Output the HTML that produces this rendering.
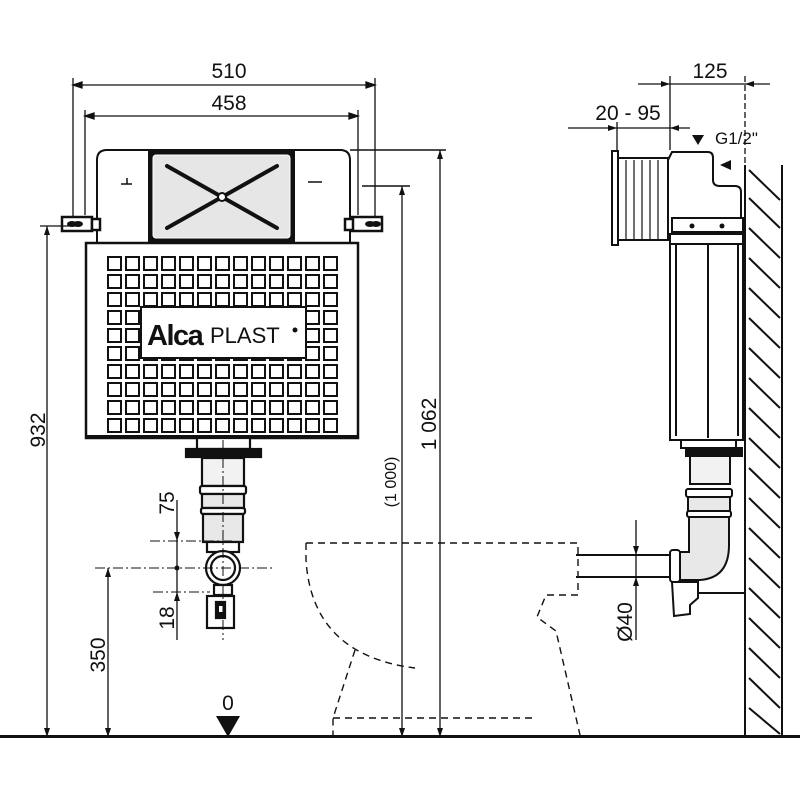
<!DOCTYPE html>
<html><head><meta charset="utf-8"><style>
html,body{margin:0;padding:0;background:#fff}
svg{display:block}
text{font-family:"Liberation Sans",Arial,sans-serif;fill:#111}
</style></head><body>
<svg width="800" height="800" viewBox="0 0 800 800" xmlns="http://www.w3.org/2000/svg">
<defs>
<g id="row" fill="#fff" stroke="#111" stroke-width="2">
<rect x="108" y="0" width="13" height="13"/><rect x="126" y="0" width="13" height="13"/><rect x="144" y="0" width="13" height="13"/><rect x="162" y="0" width="13" height="13"/><rect x="180" y="0" width="13" height="13"/><rect x="198" y="0" width="13" height="13"/><rect x="216" y="0" width="13" height="13"/><rect x="234" y="0" width="13" height="13"/><rect x="252" y="0" width="13" height="13"/><rect x="270" y="0" width="13" height="13"/><rect x="288" y="0" width="13" height="13"/><rect x="306" y="0" width="13" height="13"/><rect x="324" y="0" width="13" height="13"/>
</g>
</defs>
<g stroke="#111" fill="none" stroke-width="1.3">
<line x1="73" y1="85" x2="375" y2="85"/>
<path d="M82,82 L73,85 L82,88z M366,82 L375,85 L366,88z" fill="#111"/>
<line x1="73" y1="78" x2="73" y2="232"/><line x1="375" y1="78" x2="375" y2="232"/>
<line x1="85" y1="116" x2="358" y2="116"/>
<path d="M94,113 L85,116 L94,119z M349,113 L358,116 L349,119z" fill="#111"/>
<line x1="85" y1="110" x2="85" y2="215"/><line x1="358" y1="110" x2="358" y2="215"/>
</g>
<text x="229" y="78" font-size="21" text-anchor="middle">510</text>
<text x="229" y="110" font-size="21" text-anchor="middle">458</text>
<path d="M97,243 L97,160 Q97,150 107,150 L340,150 Q350,150 350,160 L350,243" fill="#fff" stroke="#111" stroke-width="2"/>
<rect x="148" y="150" width="147" height="93" fill="#111"/>
<rect x="153" y="155" width="137" height="83" rx="3" fill="#e6e6e6" stroke="#fff" stroke-width="1"/>
<line x1="167" y1="166" x2="277" y2="228" stroke="#111" stroke-width="4" stroke-linecap="round"/>
<line x1="277" y1="166" x2="167" y2="228" stroke="#111" stroke-width="4" stroke-linecap="round"/>
<circle cx="222" cy="197" r="4" fill="#fff" stroke="#111" stroke-width="2"/>
<g stroke="#111" stroke-width="1.5" fill="none"><path d="M121,184 L132,184 M127,178 L127,184"/><path d="M308,182 L322,182"/><path d="M362,186 L410,186"/><path d="M350,150 L446,150"/></g>
<g stroke="#111" stroke-width="2.5" fill="#fff">
<rect x="62" y="217" width="30" height="14"/><rect x="92" y="219" width="8" height="11"/>
<rect x="352" y="217" width="30" height="14"/><rect x="345" y="219" width="8" height="11"/>
</g>
<g fill="#111"><ellipse cx="72" cy="224" rx="5" ry="3"/><ellipse cx="78" cy="224" rx="5" ry="3"/><ellipse cx="370" cy="224" rx="5" ry="3"/><ellipse cx="376" cy="224" rx="5" ry="3"/></g>
<rect x="86" y="243" width="272" height="195" fill="#fff" stroke="#111" stroke-width="2.5"/>
<use href="#row" y="257"/><use href="#row" y="275"/><use href="#row" y="293"/><use href="#row" y="311"/><use href="#row" y="329"/><use href="#row" y="347"/><use href="#row" y="365"/><use href="#row" y="383"/><use href="#row" y="401"/><use href="#row" y="419"/>
<rect x="87" y="435" width="270" height="3" fill="#111"/>
<rect x="141" y="307" width="165" height="51" fill="#fff" stroke="#111" stroke-width="2"/>
<text x="147" y="345" font-size="29" font-weight="bold" letter-spacing="-1.5">Alca</text>
<text x="210" y="343" font-size="22">PLAST</text>
<circle cx="295" cy="330" r="2.5" fill="#111"/>
<g stroke="#111" stroke-width="2.2" fill="#fff">
<rect x="197" y="438" width="53" height="11"/>
<rect x="186" y="449" width="75" height="8" fill="#111"/>
<rect x="202" y="458" width="42" height="28" fill="#f2f2f2"/>
<rect x="200" y="486" width="46" height="8" rx="2"/>
<rect x="202" y="494" width="42" height="14" fill="#e8e8e8"/>
<rect x="201" y="508" width="44" height="6" rx="2"/>
<rect x="203" y="514" width="40" height="28" fill="#e8e8e8"/>
<rect x="207" y="542" width="32" height="10"/>
<circle cx="223" cy="568" r="17"/>
<circle cx="223" cy="568" r="12"/>
<rect x="214" y="585" width="18" height="10"/>
<rect x="207" y="596" width="27" height="32"/>
<rect x="216" y="602" width="9" height="16" fill="#111"/>
</g>
<rect x="219" y="606" width="4" height="6" fill="#fff"/>
<g stroke="#111" stroke-width="1" stroke-dasharray="10,3,2,3" fill="none">
<line x1="223" y1="440" x2="223" y2="640"/>
<line x1="150" y1="541" x2="232" y2="541"/>
<line x1="95" y1="568" x2="275" y2="568"/>
<line x1="153" y1="592" x2="210" y2="592"/>
</g>
<g stroke="#111" stroke-width="1.3" fill="none">
<line x1="47" y1="226" x2="47" y2="737"/><line x1="40" y1="226" x2="80" y2="226"/>
<line x1="108" y1="568" x2="108" y2="737"/>
<line x1="177" y1="500" x2="177" y2="640"/>
<line x1="402" y1="186" x2="402" y2="737"/>
<line x1="440" y1="150" x2="440" y2="737"/>
</g>
<g fill="#111">
<path d="M44,235 L47,226 L50,235z M44,728 L47,737 L50,728z"/>
<path d="M105,577 L108,568 L111,577z M105,728 L108,737 L111,728z"/>
<path d="M174,532 L177,541 L180,532z M174,601 L177,592 L180,601z"/>
<circle cx="177" cy="568" r="2.5"/>
<path d="M399,195 L402,186 L405,195z M399,728 L402,737 L405,728z"/>
<path d="M437,159 L440,150 L443,159z M437,728 L440,737 L443,728z"/>
<path d="M216,716 L240,716 L228,737z"/>
</g>
<text transform="translate(45,430) rotate(-90)" font-size="21" text-anchor="middle">932</text>
<text transform="translate(105,655) rotate(-90)" font-size="21" text-anchor="middle">350</text>
<text transform="translate(174,503) rotate(-90)" font-size="21" text-anchor="middle">75</text>
<text transform="translate(174,618) rotate(-90)" font-size="21" text-anchor="middle">18</text>
<text transform="translate(436,424) rotate(-90)" font-size="21" text-anchor="middle">1 062</text>
<text transform="translate(396,482) rotate(-90)" font-size="16" text-anchor="middle">(1 000)</text>
<text x="228" y="710" font-size="21" text-anchor="middle">0</text>
<g stroke="#111" stroke-width="1.4" fill="none" stroke-dasharray="7,5">
<path d="M306,543 L578,543 L578,595 L546,595 L537,617 L556,631 L580,735"/>
<path d="M306,543 L306,560 Q312,655 415,668"/>
<path d="M355,650 L333,718 L333,737"/>
<path d="M333,718 L537,718"/>
</g>
<rect x="0" y="735" width="800" height="3" fill="#111"/>
<g stroke="#111" stroke-width="2" fill="none">
<line x1="745" y1="165" x2="745" y2="737"/>
<line x1="782" y1="165" x2="782" y2="737"/>
</g>
<g stroke="#111" stroke-width="2">
<line x1="749" y1="170" x2="780" y2="200"/>
<line x1="749" y1="198" x2="780" y2="228"/>
<line x1="749" y1="228" x2="780" y2="258"/>
<line x1="749" y1="258" x2="780" y2="288"/>
<line x1="749" y1="288" x2="780" y2="318"/>
<line x1="749" y1="318" x2="780" y2="348"/>
<line x1="749" y1="348" x2="780" y2="378"/>
<line x1="749" y1="378" x2="780" y2="408"/>
<line x1="749" y1="408" x2="780" y2="438"/>
<line x1="749" y1="438" x2="780" y2="468"/>
<line x1="749" y1="468" x2="780" y2="498"/>
<line x1="749" y1="498" x2="780" y2="528"/>
<line x1="749" y1="528" x2="780" y2="558"/>
<line x1="749" y1="558" x2="780" y2="588"/>
<line x1="749" y1="588" x2="780" y2="618"/>
<line x1="749" y1="618" x2="780" y2="648"/>
<line x1="749" y1="648" x2="780" y2="678"/>
<line x1="749" y1="678" x2="780" y2="708"/>
<line x1="749" y1="708" x2="780" y2="734"/>
</g>
<g stroke="#111" stroke-width="1.3" fill="none">
<line x1="638" y1="84" x2="770" y2="84"/>
<line x1="670" y1="76" x2="670" y2="150"/>
<line x1="745" y1="76" x2="745" y2="165" stroke-dasharray="6,3"/>
<line x1="568" y1="128" x2="690" y2="128"/>
<line x1="617" y1="122" x2="617" y2="155"/>
<line x1="636" y1="520" x2="636" y2="640"/>
</g>
<g fill="#111">
<path d="M661,81 L670,84 L661,87z M754,81 L745,84 L754,87z"/>
<path d="M608,125 L617,128 L608,131z M679,125 L670,128 L679,131z"/>
<path d="M692,135 L704,135 L698,145z"/>
<path d="M731,160 L731,170 L720,165z"/>
<path d="M633,546 L636,555 L639,546z M633,586 L636,577 L639,586z"/>
</g>
<text x="710" y="78" font-size="21" text-anchor="middle">125</text>
<text x="628" y="120" font-size="21" text-anchor="middle">20 - 95</text>
<text x="715" y="144" font-size="17">G1/2"</text>
<text transform="translate(632,622) rotate(-90)" font-size="21" text-anchor="middle">Ø40</text>
<g stroke="#111" stroke-width="2" fill="#fff">
<rect x="612" y="151" width="6" height="94"/>
<rect x="618" y="158" width="50" height="82"/>
<path d="M668,160 L672,152 L708,152 Q713,152 713,158 L713,180 Q713,186 720,186 L735,186 Q741,186 741,192 L741,220 L676,220 L676,236 L668,236z"/>
<rect x="672" y="218" width="71" height="14"/>
<rect x="670" y="234" width="73" height="10"/>
<rect x="670" y="244" width="73" height="196"/>
<line x1="708" y1="244" x2="708" y2="438"/>
<line x1="676" y1="244" x2="676" y2="436"/>
<line x1="738" y1="244" x2="738" y2="436"/>
<rect x="681" y="440" width="55" height="8"/>
<rect x="686" y="448" width="56" height="8" fill="#111"/>
<rect x="690" y="456" width="40" height="28" fill="#f2f2f2"/>
<rect x="686" y="489" width="46" height="8" rx="2"/>
<rect x="688" y="497" width="42" height="14" fill="#e8e8e8"/>
<rect x="687" y="511" width="44" height="6" rx="2"/>
<path d="M689,517 L729,517 L729,545 Q729,578 700,580 L680,580 L680,552 L689,552z" fill="#e8e8e8"/>
<rect x="670" y="550" width="10" height="32" rx="3"/>
<path d="M672,582 L698,582 L698,598 L690,605 L690,614 L674,616z"/>
<line x1="576" y1="555" x2="670" y2="555"/>
<line x1="576" y1="577" x2="670" y2="577"/>
<line x1="698" y1="593" x2="745" y2="593"/>
</g>
<g fill="#111"><circle cx="692" cy="226" r="2.5"/><circle cx="722" cy="226" r="2.5"/></g>
<g stroke="#111" stroke-width="1.2"><line x1="626" y1="160" x2="626" y2="240"/><line x1="634" y1="160" x2="634" y2="240"/><line x1="642" y1="160" x2="642" y2="240"/><line x1="650" y1="160" x2="650" y2="240"/><line x1="658" y1="160" x2="658" y2="240"/></g>
</svg>
</body></html>
